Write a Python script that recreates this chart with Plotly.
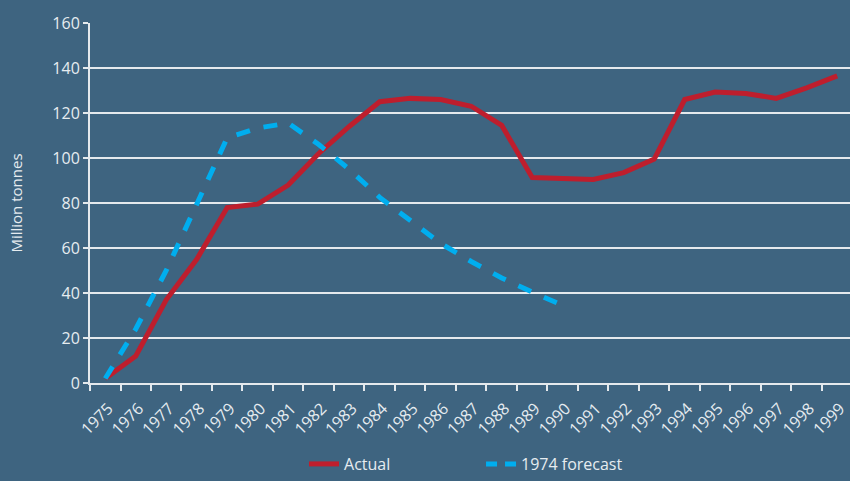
import plotly.graph_objects as go

years = [str(y) for y in range(1975, 2000)]
actual = [2, 12, 37, 55, 78, 79.5, 88, 102, 114, 125, 126.5, 126, 123, 114.5,
          91.3, 91, 90.5, 93.5, 99.5, 126, 129.3, 128.7, 126.5, 131.2, 136.5]
forecast_years = [str(y) for y in range(1975, 1991)]
forecast = [2, 24, 50, 79, 109, 113.3, 115.5, 106, 95, 82.5, 72.4, 62, 54,
            46.7, 40.4, 34.5]

BG = "#3E6480"
TXT = "#E6ECF0"
GRID = "#E4E9ED"
FONT = "Open Sans"
RED = "#BE1E2D"
BLUE = "#00AEEF"

fig = go.Figure()
fig.add_trace(go.Scatter(x=years, y=actual, mode="lines", name="Actual",
                         line=dict(color=RED, width=5)))
fig.add_trace(go.Scatter(x=forecast_years, y=forecast, mode="lines",
                         name="1974 forecast", showlegend=False,
                         line=dict(color=BLUE, width=5, dash="14px,14px")))
# legend-only entry with a dash pattern that shows two dashes in the key
fig.add_trace(go.Scatter(x=[None], y=[None], mode="lines",
                         name="1974 forecast",
                         line=dict(color=BLUE, width=5, dash="11px,8px")))

fig.update_layout(
    width=850, height=481,
    paper_bgcolor=BG, plot_bgcolor=BG,
    margin=dict(l=90, r=0, t=23, b=95),
    font=dict(family=FONT, color=TXT, size=15),
    showlegend=True,
    legend=dict(orientation="h", x=0.2816, xanchor="left", y=-0.225,
                yanchor="middle", font=dict(size=16, color=TXT),
                bgcolor="rgba(0,0,0,0)", entrywidth=132,
                entrywidthmode="pixels"),
    xaxis=dict(type="category", categoryorder="array", categoryarray=years,
               range=[-0.5, 24.42], tickson="boundaries", ticks="outside",
               ticklen=6, tickwidth=2, tickcolor=GRID, showline=True,
               linecolor=GRID, linewidth=2, showgrid=False, tickangle=-45,
               ticklabelshift=3, ticklabelstandoff=8, automargin=False,
               tickfont=dict(size=16, color=TXT)),
    yaxis=dict(range=[0, 160], dtick=20, tick0=0, ticks="outside", ticklen=5,
               tickwidth=2, tickcolor=GRID, showline=True, linecolor=GRID,
               linewidth=2, showgrid=True, gridcolor=GRID, gridwidth=2,
               zeroline=False, tickfont=dict(size=16, color=TXT),
               automargin=False,
               title=dict(text="Million tonnes", standoff=26,
                          font=dict(size=15, color=TXT))),
)

fig.write_html("out.html",
               config={"displayModeBar": False},
               post_script="document.body.style.margin='0';"
                           "document.body.style.padding='0';"
                           "document.body.style.background='#3E6480';")
